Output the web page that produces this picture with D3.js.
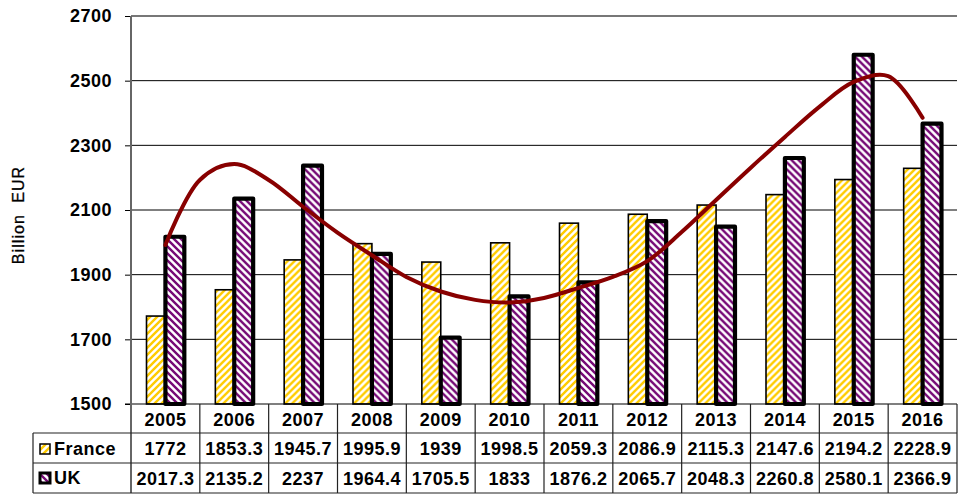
<!DOCTYPE html>
<html>
<head>
<meta charset="utf-8">
<script src="https://cdn.jsdelivr.net/npm/d3@7"></script>
<style>
  body { margin: 0; background: #fff; }
  svg { display: block; }
  text { font-family: "Liberation Sans", Arial, sans-serif; }
</style>
</head>
<body>
<svg id="chart" width="958" height="494"></svg>
<script>
// Categories and series
const years = ["2005", "2006", "2007", "2008", "2009", "2010", "2011", "2012", "2013", "2014", "2015", "2016"];
const france = [1772, 1853.3, 1945.7, 1995.9, 1939, 1998.5, 2059.3, 2086.9, 2115.3, 2147.6, 2194.2, 2228.9];
const uk = [2017.3, 2135.2, 2237, 1964.4, 1705.5, 1833, 1876.2, 2065.7, 2048.3, 2260.8, 2580.1, 2366.9];
const seriesNames = ["France", "UK"];
const yTicks = [1500, 1700, 1900, 2100, 2300, 2500, 2700];

// Polynomial trend curve for UK, sampled at half-year steps
const trendYears = [2005, 2005.5, 2006, 2006.5, 2007, 2007.5, 2008, 2008.5, 2009, 2009.5, 2010, 2010.5,
                    2011, 2011.5, 2012, 2012.5, 2013, 2013.5, 2014, 2014.5, 2015, 2015.5, 2016];
const trendValues = [1992, 2193, 2242, 2193, 2110, 2030, 1960, 1893, 1848, 1822, 1814, 1828,
                     1859, 1893, 1942, 2032, 2131, 2230, 2326, 2419, 2496, 2514, 2385];

const svg = d3.select("#chart");
const plot = { left: 131, right: 957, top: 16, bottom: 404 };
const rows = { header: 404, france: 433, uk: 463, end: 493 };
const tableLeft = 33;

const x = d3.scaleBand().domain(years).range([plot.left, plot.right]).paddingInner(0).paddingOuter(0);
const xs = d3.scaleBand().domain(seriesNames).range([0, x.bandwidth()]).paddingInner(0).paddingOuter(0.82);
const y = d3.scaleLinear().domain([1500, 2700]).range([plot.bottom, plot.top]);
const xYear = d3.scaleLinear()
  .domain([+years[0], +years[years.length - 1]])
  .range([x(years[0]) + x.bandwidth() / 2, x(years[years.length - 1]) + x.bandwidth() / 2]);

// Hatch fills
const defs = svg.append("defs");
function hatch(id, color, dir) {
  const s = 7;
  const p = defs.append("pattern").attr("id", id).attr("patternUnits", "userSpaceOnUse")
    .attr("width", s).attr("height", s);
  p.append("rect").attr("width", s).attr("height", s).attr("fill", "#fff");
  const h = s / 4;
  const d = dir === "up"
    ? `M${-h},${h} L${h},${-h} M0,${s} L${s},0 M${s - h},${s + h} L${s + h},${s - h}`
    : `M${-h},${s - h} L${h},${s + h} M0,0 L${s},${s} M${s - h},${-h} L${s + h},${h}`;
  p.append("path").attr("d", d).attr("stroke", color).attr("stroke-width", 2.4).attr("fill", "none");
}
hatch("hatchFrance", "#ffcc00", "up");
hatch("hatchUK", "#760a76", "down");

// Gridlines
svg.append("g").selectAll("line").data(yTicks.filter(t => t > 1500 && t < 2700)).join("line")
  .attr("x1", plot.left).attr("x2", plot.right)
  .attr("y1", d => y(d)).attr("y2", d => y(d))
  .attr("stroke", "#000").attr("stroke-width", 1);
svg.append("line").attr("x1", plot.left).attr("x2", plot.right)
  .attr("y1", y(2700)).attr("y2", y(2700)).attr("stroke", "#777").attr("stroke-width", 2);

// Y axis
const yAxis = svg.append("g").attr("transform", `translate(${plot.left},0)`)
  .call(d3.axisLeft(y).tickValues(yTicks).tickSize(6).tickPadding(13).tickFormat(d3.format("d")));
yAxis.select(".domain").remove();
yAxis.selectAll(".tick line").attr("stroke", "#000");
yAxis.selectAll(".tick text").attr("font-size", 18).attr("font-weight", "bold")
  .attr("letter-spacing", 0.5).attr("fill", "#000")
  .attr("font-family", '"Liberation Sans", Arial, sans-serif');

svg.append("text")
  .attr("transform", `translate(24,215) rotate(-90)`)
  .attr("text-anchor", "middle").attr("font-size", 16).attr("letter-spacing", 1.1)
  .attr("stroke", "#000").attr("stroke-width", 0.3)
  .attr("xml:space", "preserve").style("white-space", "pre")
  .text("Billion  EUR");

// Bars
const groups = svg.append("g").selectAll("g").data(years).join("g")
  .attr("transform", d => `translate(${x(d)},0)`);
groups.append("rect")
  .attr("x", xs("France")).attr("width", xs.bandwidth())
  .attr("y", (d, i) => y(france[i])).attr("height", (d, i) => y(1500) - y(france[i]))
  .attr("fill", "url(#hatchFrance)").attr("stroke", "#000").attr("stroke-width", 1.6);
groups.append("rect")
  .attr("x", xs("UK")).attr("width", xs.bandwidth())
  .attr("y", (d, i) => y(uk[i])).attr("height", (d, i) => y(1500) - y(uk[i]))
  .attr("fill", "url(#hatchUK)").attr("stroke", "#000").attr("stroke-width", 4.2)
  .attr("stroke-linejoin", "round");

// Trend curve
const line = d3.line().x(d => xYear(d[0])).y(d => y(d[1])).curve(d3.curveCatmullRom.alpha(0.5));
svg.append("path")
  .datum(trendYears.map((t, i) => [t, trendValues[i]]))
  .attr("d", line).attr("fill", "none").attr("stroke", "#880000")
  .attr("stroke-width", 4).attr("stroke-linecap", "round");

// Axis lines
svg.append("line").attr("x1", plot.left - 6).attr("x2", plot.right)
  .attr("y1", plot.bottom).attr("y2", plot.bottom).attr("stroke", "#000").attr("stroke-width", 1.2);
svg.append("line").attr("x1", plot.left).attr("x2", plot.left)
  .attr("y1", plot.top).attr("y2", rows.end).attr("stroke", "#666").attr("stroke-width", 2);

// Data table
const table = svg.append("g");
[rows.france, rows.uk, rows.end].forEach(yy => {
  table.append("line").attr("x1", tableLeft).attr("x2", plot.right)
    .attr("y1", yy).attr("y2", yy).attr("stroke", "#222").attr("stroke-width", 1.2);
});
table.append("line").attr("x1", tableLeft).attr("x2", tableLeft)
  .attr("y1", rows.france).attr("y2", rows.end).attr("stroke", "#222").attr("stroke-width", 1.2);
table.selectAll("line.col").data(years.slice(1).concat(["end"])).join("line")
  .attr("class", "col")
  .attr("x1", d => d === "end" ? plot.right : x(d)).attr("x2", d => d === "end" ? plot.right : x(d))
  .attr("y1", plot.bottom).attr("y2", rows.end).attr("stroke", "#222").attr("stroke-width", 1.2);

const cellText = (sel) => sel.attr("text-anchor", "middle").attr("font-size", 18)
  .attr("font-weight", "bold").attr("letter-spacing", 0.5).attr("dominant-baseline", "central");
table.selectAll("text.yr").data(years).join("text").attr("class", "yr")
  .attr("x", d => x(d) + x.bandwidth() / 2).attr("y", 420).text(d => d).call(cellText);
table.selectAll("text.fr").data(france).join("text").attr("class", "fr")
  .attr("x", (d, i) => x(years[i]) + x.bandwidth() / 2).attr("y", 449).text(d => String(d)).call(cellText);
table.selectAll("text.uk").data(uk).join("text").attr("class", "uk")
  .attr("x", (d, i) => x(years[i]) + x.bandwidth() / 2).attr("y", 479).text(d => String(d)).call(cellText);

// Legend keys in the table
const keys = [
  { name: "France", fill: "url(#hatchFrance)", sw: 1.5, cy: 449 },
  { name: "UK", fill: "url(#hatchUK)", sw: 3, cy: 478 }
];
keys.forEach(k => {
  table.append("rect").attr("x", 40).attr("y", k.cy - 5).attr("width", 10).attr("height", 10)
    .attr("fill", k.fill).attr("stroke", "#000").attr("stroke-width", k.sw);
  table.append("text").attr("x", 54).attr("y", k.cy).attr("font-size", 18).attr("font-weight", "bold")
    .attr("letter-spacing", 0.5).attr("dominant-baseline", "central").text(k.name);
});
</script>
</body>
</html>
